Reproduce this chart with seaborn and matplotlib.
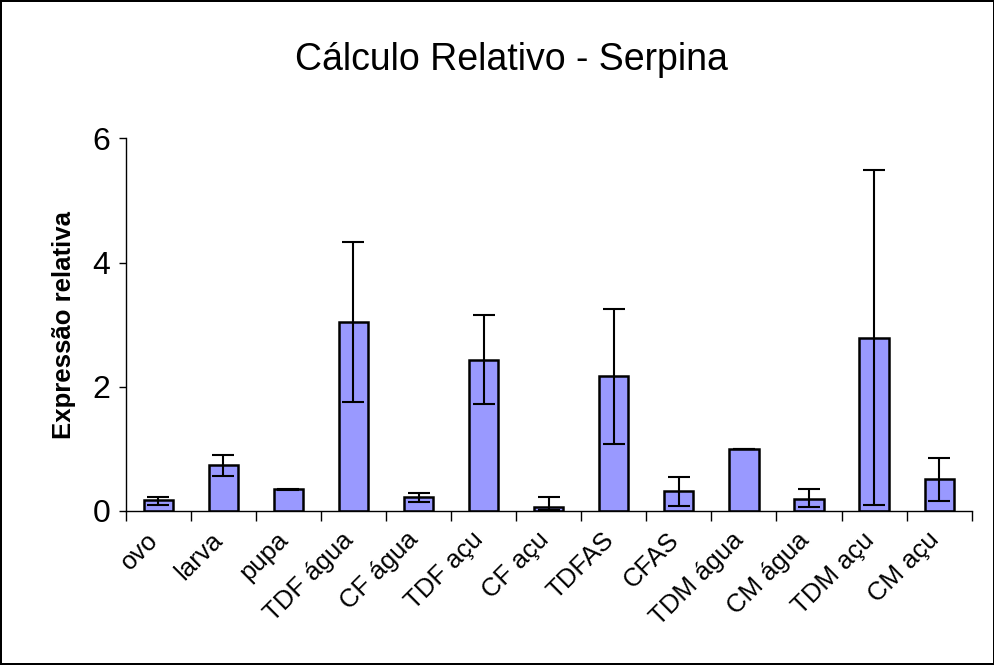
import numpy as np
import pandas as pd
import matplotlib
matplotlib.use('Agg')
import matplotlib.pyplot as plt
import matplotlib.transforms as mtransforms
import seaborn as sns

# valores
categorias = ['ovo', 'larva', 'pupa', 'TDF água', 'CF água', 'TDF açu', 'CF açu',
              'TDFAS', 'CFAS', 'TDM água', 'CM água', 'TDM açu', 'CM açu']
expressao = [0.17, 0.74, 0.35, 3.04, 0.23, 2.43, 0.06, 2.17, 0.32, 1.0, 0.19, 2.79, 0.52]
erro_sup = [0.225, 0.90, 0.36, 4.33, 0.295, 3.16, 0.22, 3.25, 0.54, 1.0, 0.35, 5.49, 0.86]
erro_inf = [0.10, 0.57, 0.34, 1.76, 0.15, 1.72, 0.02, 1.08, 0.085, 1.0, 0.06, 0.09, 0.156]

df = pd.DataFrame({'amostra': categorias, 'expr': expressao})

sns.set_style('white')
plt.rcParams['font.family'] = ['Liberation Sans', 'DejaVu Sans']
plt.rcParams['text.color'] = 'black'
plt.rcParams['xtick.color'] = 'black'
plt.rcParams['ytick.color'] = 'black'
plt.rcParams['axes.labelcolor'] = 'black'

fig = plt.figure(figsize=(9.95, 6.65), dpi=100)
fig.patch.set_edgecolor('black')
fig.patch.set_linewidth(1.5)
ax = fig.add_axes([0.1263, 0.2316, 0.8503, 0.5604])

sns.barplot(data=df, x='amostra', y='expr', color='#9999FF', saturation=1,
            edgecolor='black', linewidth=1.8, width=0.45, errorbar=None, ax=ax)

x = np.arange(len(categorias))
y = np.array(expressao)
yerr = [y - np.array(erro_inf), np.array(erro_sup) - y]
ax.errorbar(x, y, yerr=yerr, fmt='none', ecolor='black', elinewidth=1.5,
            capsize=8, capthick=1.5)

ax.set_ylim(0, 6)
ax.set_xlim(-0.5, len(categorias) - 0.5)
ax.set_yticks([0, 2, 4, 6])
ax.tick_params(axis='y', labelsize=23, length=5, width=1, direction='out', left=True, pad=6)
ax.set_xticks(x)
ax.set_xticklabels(categorias, rotation=45, ha='right', rotation_mode='anchor', fontsize=18.5)
ax.tick_params(axis='x', length=0, pad=14)
ax.set_xticks(np.arange(-0.5, len(categorias), 1), minor=True)
ax.tick_params(axis='x', which='minor', length=7, width=1, direction='out', bottom=True)

# desloca os rótulos um pouco para a esquerda
desloc = mtransforms.ScaledTranslation(-9 / 72, 2 / 72, fig.dpi_scale_trans)
for lbl in ax.get_xticklabels():
    lbl.set_transform(lbl.get_transform() + desloc)

ax.set_xlabel('')
ax.set_ylabel('Expressão relativa', fontsize=18.5, fontweight='bold', labelpad=12)
for s in ['top', 'right']:
    ax.spines[s].set_visible(False)
for s in ['left', 'bottom']:
    ax.spines[s].set_color('black')
    ax.spines[s].set_linewidth(1)

fig.text(0.514, 0.91, 'Cálculo Relativo - Serpina', ha='center', va='center', fontsize=27)

fig.savefig('out.png', dpi=100, edgecolor=fig.get_edgecolor())
